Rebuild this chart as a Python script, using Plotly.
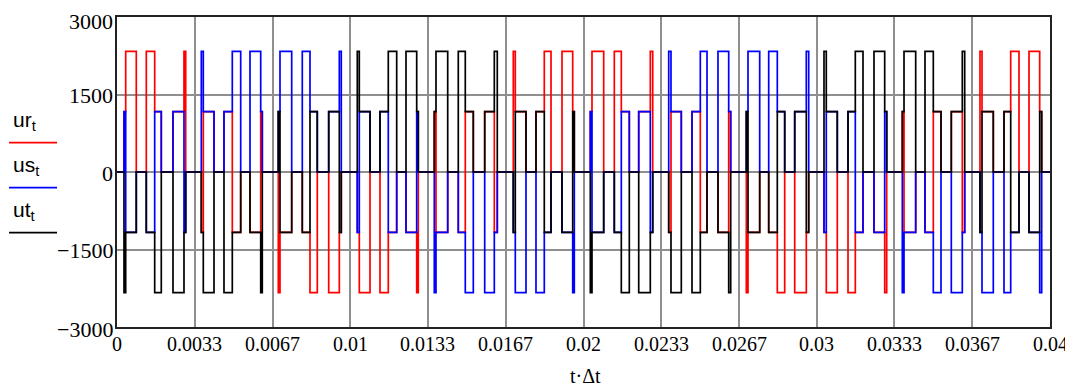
import plotly.graph_objects as go

# Switching-interval edges (seconds)
t_edges = [
    0.0, 0.000300, 0.000373, 0.000827, 0.001256, 0.001616, 0.001899, 0.002401, 0.002872, 0.002945,
    0.003614, 0.003700, 0.004159, 0.004587, 0.004943, 0.005303, 0.005702, 0.006161, 0.006229,
    0.006915, 0.006988, 0.007490, 0.007944, 0.008274, 0.008587, 0.009076, 0.009531, 0.009616,
    0.010302, 0.010388, 0.010847, 0.011275, 0.011631, 0.011991, 0.012390, 0.012849, 0.012917,
    0.013603, 0.013676, 0.014178, 0.014632, 0.014932, 0.015276, 0.015764, 0.016176, 0.016304,
    0.016990, 0.017076, 0.017535, 0.017963, 0.018319, 0.018607, 0.019078, 0.019537, 0.019606,
    0.020292, 0.020364, 0.020866, 0.021321, 0.021621, 0.021964, 0.022367, 0.022864, 0.022967,
    0.023653, 0.023751, 0.024193, 0.024652, 0.025008, 0.025295, 0.025766, 0.026225, 0.026311,
    0.026980, 0.027053, 0.027554, 0.027940, 0.028309, 0.028626, 0.029055, 0.029552, 0.029655,
    0.030311, 0.030409, 0.030881, 0.031340, 0.031653, 0.031983, 0.032454, 0.032913, 0.032999,
    0.033668, 0.033741, 0.034242, 0.034641, 0.034997, 0.035327, 0.035769, 0.036240, 0.036343,
    0.036999, 0.037085, 0.037569, 0.038028, 0.038315, 0.038671, 0.039100, 0.039558, 0.039644,
    0.04,
]

# Phase voltage in each interval (V)
ur = [
    0,
    1167, 2333, 0, 2333, 1167, 0, 1167, 2333, 0,
    -1167, 1167, 0, 1167, -1167, 0, -1167, 1167, 0,
    -2333, -1167, 0, -1167, -2333, 0, -2333, -1167, 0,
    -1167, -2333, 0, -2333, -1167, 0, -1167, -2333, 0,
    1167, -1167, 0, -1167, 1167, 0, 1167, -1167, 0,
    2333, 1167, 0, 1167, 2333, 0, 2333, 1167, 0,
    1167, 2333, 0, 2333, 1167, 0, 1167, 2333, 0,
    -1167, 1167, 0, 1167, -1167, 0, -1167, 1167, 0,
    -2333, -1167, 0, -1167, -2333, 0, -2333, -1167, 0,
    -1167, -2333, 0, -2333, -1167, 0, -1167, -2333, 0,
    1167, -1167, 0, -1167, 1167, 0, 1167, -1167, 0,
    2333, 1167, 0, 1167, 2333, 0, 2333, 1167, 0,
]
us = [
    0,
    1167, -1167, 0, -1167, 1167, 0, 1167, -1167, 0,
    2333, 1167, 0, 1167, 2333, 0, 2333, 1167, 0,
    1167, 2333, 0, 2333, 1167, 0, 1167, 2333, 0,
    -1167, 1167, 0, 1167, -1167, 0, -1167, 1167, 0,
    -2333, -1167, 0, -1167, -2333, 0, -2333, -1167, 0,
    -1167, -2333, 0, -2333, -1167, 0, -1167, -2333, 0,
    1167, -1167, 0, -1167, 1167, 0, 1167, -1167, 0,
    2333, 1167, 0, 1167, 2333, 0, 2333, 1167, 0,
    1167, 2333, 0, 2333, 1167, 0, 1167, 2333, 0,
    -1167, 1167, 0, 1167, -1167, 0, -1167, 1167, 0,
    -2333, -1167, 0, -1167, -2333, 0, -2333, -1167, 0,
    -1167, -2333, 0, -2333, -1167, 0, -1167, -2333, 0,
]
ut = [
    0,
    -2333, -1167, 0, -1167, -2333, 0, -2333, -1167, 0,
    -1167, -2333, 0, -2333, -1167, 0, -1167, -2333, 0,
    1167, -1167, 0, -1167, 1167, 0, 1167, -1167, 0,
    2333, 1167, 0, 1167, 2333, 0, 2333, 1167, 0,
    1167, 2333, 0, 2333, 1167, 0, 1167, 2333, 0,
    -1167, 1167, 0, 1167, -1167, 0, -1167, 1167, 0,
    -2333, -1167, 0, -1167, -2333, 0, -2333, -1167, 0,
    -1167, -2333, 0, -2333, -1167, 0, -1167, -2333, 0,
    1167, -1167, 0, -1167, 1167, 0, 1167, -1167, 0,
    2333, 1167, 0, 1167, 2333, 0, 2333, 1167, 0,
    1167, 2333, 0, 2333, 1167, 0, 1167, 2333, 0,
    -1167, 1167, 0, 1167, -1167, 0, -1167, 1167, 0,
]

x_tick_vals = [0, 0.003333, 0.006667, 0.01, 0.013333, 0.016667, 0.02,
               0.023333, 0.026667, 0.03, 0.033333, 0.036667, 0.04]
x_tick_text = ["0", "0.0033", "0.0067", "0.01", "0.0133", "0.0167", "0.02",
               "0.0233", "0.0267", "0.03", "0.0333", "0.0367", "0.04"]
y_tick_vals = [-3000, -1500, 0, 1500, 3000]
y_tick_text = ["\u22123000", "\u22121500", "0", "1500", "3000"]

series = [("ur", ur, "#ff0000"), ("us", us, "#0000ff"), ("ut", ut, "#000000")]

fig = go.Figure()
for name, vals, col in series:
    fig.add_trace(go.Scatter(
        x=t_edges, y=vals + [vals[-1]], mode="lines", line_shape="hv",
        line=dict(color=col, width=1.7), name=name, showlegend=False,
        hoverinfo="skip"))

# The page body adds an 8 px offset; target plot box in screen pixels:
OFF = 8
W, H = 1073, 385
X0, X1, Y0, Y1 = 117, 1050, 17, 327
L, T = X0 - OFF, Y0 - OFF
R = W - (X1 - OFF)
B = H - (Y1 - OFF)
pw, ph = X1 - X0, Y1 - Y0

def px(x):
    return (x - X0) / pw

def py(y):
    return (Y1 - y) / ph

serif = "Liberation Serif, Times New Roman, serif"
sans = "Liberation Sans, Arial, sans-serif"

fig.update_layout(
    width=W, height=H,
    margin=dict(l=L, r=R, t=T, b=B, autoexpand=False),
    paper_bgcolor="white", plot_bgcolor="white",
    xaxis=dict(range=[0, 0.04], tickvals=x_tick_vals, showticklabels=False,
               showgrid=True, gridcolor="#8f8f8f", gridwidth=1.5,
               showline=True, linecolor="#222", linewidth=2, mirror=True,
               ticks="", zeroline=False, automargin=False),
    yaxis=dict(range=[-3000, 3000], tickvals=y_tick_vals, showticklabels=False,
               showgrid=True, gridcolor="#8f8f8f", gridwidth=1.5,
               showline=True, linecolor="#222", linewidth=2, mirror=True,
               ticks="", zeroline=False, automargin=False),
)

# x tick labels placed just under the frame, as in the reference
for v, txt in zip(x_tick_vals, x_tick_text):
    fig.add_annotation(text=txt, xref="x", yref="paper", x=v, y=py(344),
                       xanchor="center", yanchor="middle", showarrow=False,
                       font=dict(family=serif, size=20, color="black"))

# y tick labels (Mathcad nudges the end labels inward)
y_shift = {3000: -4, -3000: -2}
for v, txt in zip(y_tick_vals, y_tick_text):
    fig.add_annotation(text=txt, xref="paper", yref="y", x=px(115), y=v,
                       yshift=y_shift.get(v, -1), xanchor="right", yanchor="middle",
                       showarrow=False,
                       font=dict(family=serif, size=22, color="black"))

fig.add_annotation(text="t·Δt", xref="paper", yref="paper", x=px(585), y=py(376),
                   xanchor="center", yanchor="middle", showarrow=False,
                   font=dict(family=serif, size=20, color="black"))

legend_items = [("ur<sub>t</sub>", "#ff0000", 121, 142.7),
                ("us<sub>t</sub>", "#0000ff", 166, 187.7),
                ("ut<sub>t</sub>", "#000000", 211, 232.7)]
for txt, col, ty, ly in legend_items:
    fig.add_annotation(text=txt, xref="paper", yref="paper", x=px(11), y=py(ty),
                       xanchor="left", yanchor="middle", showarrow=False,
                       font=dict(family=sans, size=21, color="black"))
    fig.add_shape(type="line", xref="paper", yref="paper",
                  x0=px(9), x1=px(57), y0=py(ly), y1=py(ly),
                  line=dict(color=col, width=1.7))

fig.write_html("out.html")
